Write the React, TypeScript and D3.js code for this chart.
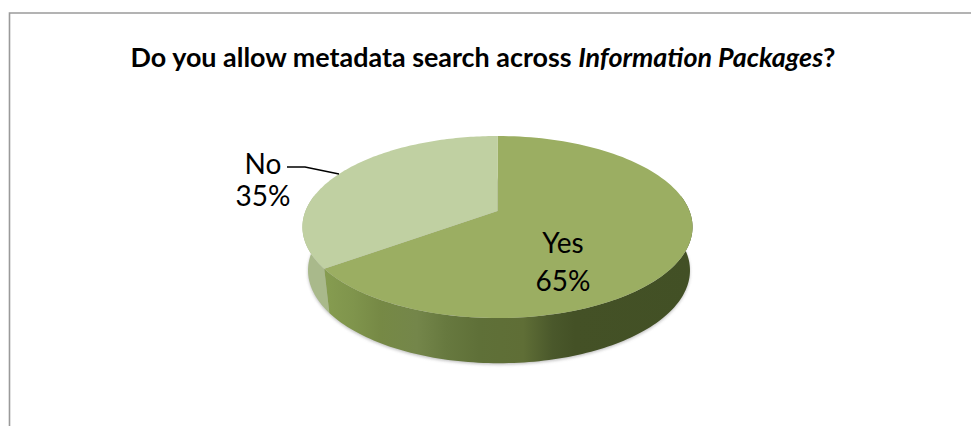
import React from "react";
import * as d3 from "d3";

const categories = ["Yes", "No"];
const seriesValues = [65, 35];
const percentLabels = ["65%", "35%"];
const topColors = ["#9bae62", "#c0d0a2"];
const sideStops = [
  { offset: 0, color: "#869c50" },
  { offset: 0.08, color: "#7f944c" },
  { offset: 0.15, color: "#768945" },
  { offset: 0.25, color: "#74864a" },
  { offset: 0.33, color: "#67793f" },
  { offset: 0.42, color: "#5f7038" },
  { offset: 0.54, color: "#5f6e36" },
  { offset: 0.62, color: "#4a582b" },
  { offset: 0.68, color: "#445126" },
  { offset: 1, color: "#425025" },
];
const noSideColor = "#a9b98b";

const WIDTH = 971;
const HEIGHT = 426;
const FONT = "Lato, Carlito, Calibri, sans-serif";

// Perspective disc: maps pie angle to the screen
const k = 0.176;
const project = (t: number, cx: number, y0: number, A: number, B: number): [number, number] => {
  const u = Math.sin(t);
  const v = -Math.cos(t);
  const d = 1 - k * v;
  return [cx + (A * u) / d, y0 + (B * v) / d];
};
const topP = (t: number) => project(t, 497.5, 211, 192, 88.2);
const botP = (t: number) => project(t, 499, 254, 188, 90);

export default function App() {
  const pie = d3.pie<number>().sort(null).startAngle(0).endAngle(2 * Math.PI);
  const arcs = pie(seriesValues);
  const line = d3.line();
  const samples = (a: number, b: number) => d3.range(0, 121).map((i) => a + ((b - a) * i) / 120);

  const topPath = (a: number, b: number) =>
    line([[497.5, 211], ...samples(a, b).map(topP)] as [number, number][]) + "Z";
  const sidePath = (a: number, b: number) =>
    line([...samples(a, b).map(topP), ...samples(a, b).reverse().map(botP)]) + "Z";

  const rad = Math.PI / 180;
  const yesSide: [number, number] = [80 * rad, arcs[0].endAngle];
  const noSide: [number, number] = [arcs[1].startAngle, 280 * rad];
  const shadowPath = line(samples(0, 2 * Math.PI).map((t) => {
    const [x, y] = botP(t);
    return [x, y + 1.5] as [number, number];
  })) + "Z";

  return (
    <svg
      width={WIDTH}
      height={HEIGHT}
      viewBox={`0 0 ${WIDTH} ${HEIGHT}`}
      style={{ position: "absolute", left: 0, top: 0, background: "#fff" }}
    >
      <defs>
        <linearGradient id="side" gradientUnits="userSpaceOnUse" x1={325} x2={692} y1={0} y2={0}>
          {sideStops.map((s) => (
            <stop key={s.offset} offset={s.offset} stopColor={s.color} />
          ))}
        </linearGradient>
        <filter id="soft" x="-10%" y="-10%" width="120%" height="120%">
          <feGaussianBlur stdDeviation="1.5" />
        </filter>
      </defs>

      <path d="M9.5 426V13H971" fill="none" stroke="#9a9a9a" strokeWidth={1.6} />

      <text x={483} y={67} textAnchor="middle" fontFamily={FONT} fontWeight={700} fontSize={26.9} fill="#000">
        Do you allow metadata search across <tspan fontStyle="italic">Information Packages</tspan>?
      </text>

      <path d={shadowPath} fill="#999" opacity={0.6} filter="url(#soft)" />
      <path d={sidePath(noSide[0], noSide[1])} fill={noSideColor} />
      <path d={sidePath(yesSide[0], yesSide[1])} fill="url(#side)" />
      {arcs.map((a, i) => (
        <path key={categories[i]} d={topPath(a.startAngle, a.endAngle)} fill={topColors[i]} />
      ))}

      <path d="M287 167H305L339 174" fill="none" stroke="#000" strokeWidth={1.4} />

      <g fontFamily={FONT} fontSize={28} fill="#000" textAnchor="middle">
        <text x={563} y={253}>{categories[0]}</text>
        <text x={563} y={291}>{percentLabels[0]}</text>
        <text x={263} y={174}>{categories[1]}</text>
        <text x={263} y={206}>{percentLabels[1]}</text>
      </g>
    </svg>
  );
}
